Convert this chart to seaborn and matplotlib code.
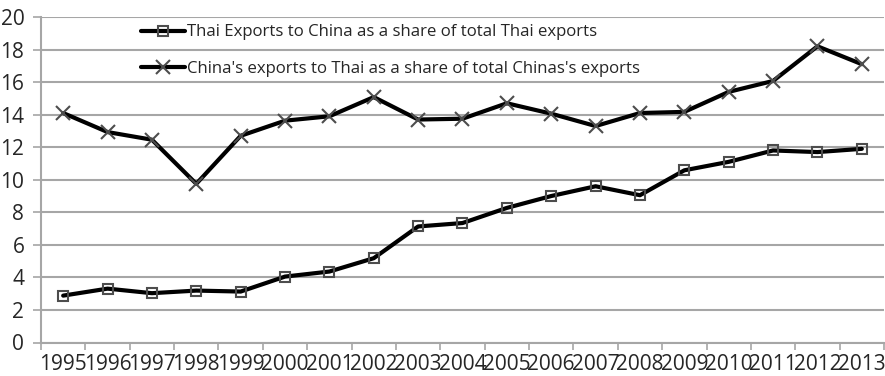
import matplotlib
matplotlib.use("Agg")
import matplotlib.pyplot as plt
import seaborn as sns
import pandas as pd
import numpy as np

years = [str(y) for y in range(1995, 2014)]
thai_to_china = [2.88, 3.31, 3.03, 3.19, 3.13, 4.05, 4.36, 5.18, 7.13, 7.34,
                 8.27, 9.0, 9.6, 9.05, 10.58, 11.1, 11.8, 11.7, 11.9]
china_to_thai = [14.1, 12.93, 12.46, 9.75, 12.7, 13.63, 13.9, 15.08, 13.7, 13.75,
                 14.7, 14.06, 13.3, 14.1, 14.17, 15.4, 16.07, 18.2, 17.1]
labels = ["Thai Exports to China as a share of total Thai exports",
          "China's exports to Thai as a share of total Chinas's exports"]
y_ticks = list(range(0, 21, 2))

sns.set_style("white")
plt.rcParams["font.family"] = ["Open Sans", "DejaVu Sans"]

fig = plt.figure(figsize=(8.85, 3.76), dpi=100)
ax = fig.add_axes([41 / 885, 1 - 342.5 / 376, 843 / 885, 325.5 / 376])

pos = np.arange(len(years))
grid_c = "#a6a6a6"

sns.lineplot(x=pos, y=thai_to_china, ax=ax, color="black", lw=3.0,
             marker="s", markersize=7.5, markerfacecolor="none",
             markeredgecolor="#4d4d4d", markeredgewidth=1.5, label=labels[0])
sns.lineplot(x=pos, y=china_to_thai, ax=ax, color="black", lw=3.0,
             marker="x", markersize=10, markeredgecolor="#4d4d4d",
             markeredgewidth=1.5, label=labels[1])

ax.set_xlim(-0.5, len(years) - 0.5)
ax.set_ylim(0, 20)
ax.set_yticks(y_ticks)
ax.set_yticklabels([str(t) for t in y_ticks])
ax.set_xticks(pos)
ax.set_xticklabels(years)
ax.set_xticks(np.arange(-0.5, len(years)), minor=True)
ax.tick_params(axis="x", which="major", length=0, pad=8.6, labelsize=15.0)
ax.tick_params(axis="x", which="minor", length=5, width=1.2, color=grid_c,
               direction="out", bottom=True)
ax.tick_params(axis="y", length=6, width=1.2, color=grid_c, direction="out",
               left=True, labelsize=15.0, pad=6)
ax.yaxis.grid(True, color=grid_c, lw=1.5)
ax.set_axisbelow(True)
for s in ["top", "right"]:
    ax.spines[s].set_visible(False)
for s in ["left", "bottom"]:
    ax.spines[s].set_color(grid_c)
    ax.spines[s].set_linewidth(1.5)
ax.set_xlabel("")
ax.set_ylabel("")

leg = ax.legend(loc="upper left", bbox_to_anchor=(90 / 843, 1.008), frameon=False,
                fontsize=12.1, handlelength=2.6, labelspacing=1.2,
                handletextpad=0.15, borderaxespad=0.2)

fig.savefig("out.png", dpi=100)
